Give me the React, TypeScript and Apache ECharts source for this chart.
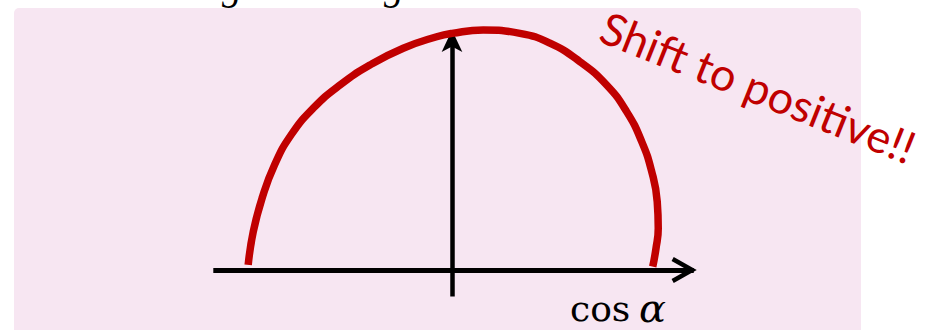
import React, { useEffect, useRef } from "react";
import * as echarts from "echarts";

// cos(alpha) positions along the curve
const cosAlpha = [
  -0.999, -0.974, -0.931, -0.87, -0.789, -0.68, -0.549, -0.402, -0.239, -0.075,
  0.0, 0.153, 0.333, 0.48, 0.627, 0.758, 0.856, 0.93, 0.979, 1.006, 1.011, 1.0, 0.984,
];
// curve height (normalised)
const curveValues = [
  0.021, 0.16, 0.299, 0.4375, 0.5625, 0.674, 0.771, 0.854, 0.924, 0.972,
  0.986, 1.0, 0.986, 0.945, 0.868, 0.771, 0.66, 0.535, 0.41, 0.285, 0.174, 0.09, 0.014,
];
const xExtent = [-1.17, 1.185];
const yExtent = [-0.11, 1.0];
const xAxisTitle = ["cos", "α"];
const annotationText = "Shift to positive!!";
const cutTitleGlyphs = ["g", "g"];

const CHEVRON = "path://M13,0 L26,23 L22,25.2 L13,9.2 L4,25.2 L0,23 Z";

export default function App() {
  const ref = useRef<HTMLDivElement>(null);

  useEffect(() => {
    document.body.style.margin = "0";
    const chart = echarts.init(ref.current as HTMLDivElement, null, {
      renderer: "svg",
    });

    const option: any = {
      animation: false,
      backgroundColor: "#ffffff",
      grid: {
        left: 213.3,
        right: 934 - (452 + xExtent[1] * 204),
        top: 30,
        bottom: 33.6,
        containLabel: false,
        outerBoundsMode: "none",
      },
      xAxis: {
        type: "value",
        min: xExtent[0],
        max: xExtent[1],
        axisLine: {
          show: true,
          onZero: true,
          symbol: ["none", CHEVRON],
          symbolSize: [26, 25.2],
          symbolOffset: [0, -9.6],
          lineStyle: { color: "#000000", width: 5, cap: "butt" },
        },
        axisTick: { show: false },
        axisLabel: { show: false },
        splitLine: { show: false },
      },
      yAxis: {
        type: "value",
        min: yExtent[0],
        max: yExtent[1],
        axisLine: {
          show: true,
          onZero: true,
          symbol: ["none", "arrow"],
          symbolSize: [15.5, 22],
          lineStyle: { color: "#000000", width: 4.5, cap: "butt" },
        },
        axisTick: { show: false },
        axisLabel: { show: false },
        splitLine: { show: false },
      },
      series: [
        {
          type: "line",
          data: cosAlpha.map((c, i) => [c, curveValues[i]]),
          showSymbol: false,
          symbol: "none",
          smooth: 0.5,
          clip: false,
          z: 5,
          lineStyle: { color: "#c00000", width: 7.5, cap: "butt" },
        },
      ],
      graphic: [
        {
          type: "rect",
          z: -100,
          silent: true,
          shape: { x: 14, y: 8, width: 847, height: 340, r: 5 },
          style: { fill: "#f7e6f2" },
        },
        {
          type: "text",
          z: -50,
          x: 222,
          y: -15,
          style: {
            text: cutTitleGlyphs[0],
            fontFamily: "Liberation Serif",
            fontStyle: "italic",
            fontSize: 40,
            fill: "#000000",
            align: "left",
            verticalAlign: "middle",
          },
        },
        {
          type: "text",
          z: -50,
          x: 384,
          y: -15,
          style: {
            text: cutTitleGlyphs[1],
            fontFamily: "Liberation Serif",
            fontStyle: "italic",
            fontSize: 40,
            fill: "#000000",
            align: "left",
            verticalAlign: "middle",
          },
        },
        {
          type: "text",
          z: 10,
          x: 570,
          y: 308,
          style: {
            text: xAxisTitle[0],
            fontFamily: "DejaVu Serif",
            fontSize: 36,
            lineHeight: 32,
            fill: "#000000",
            align: "left",
            verticalAlign: "middle",
          },
        },
        {
          type: "text",
          z: 10,
          x: 639,
          y: 308,
          style: {
            text: xAxisTitle[1],
            fontFamily: "DejaVu Serif",
            fontStyle: "italic",
            fontSize: 40,
            lineHeight: 32,
            fill: "#000000",
            align: "left",
            verticalAlign: "middle",
          },
        },
        {
          type: "text",
          z: 10,
          x: 603,
          y: 25,
          rotation: -0.3805,
          style: {
            text: annotationText,
            fontFamily: "Lato",
            fontSize: 45,
            lineHeight: 40,
            fill: "#c00000",
            align: "left",
            verticalAlign: "middle",
          },
        },
      ],
    };

    chart.setOption(option);
    return () => chart.dispose();
  }, []);

  return <div ref={ref} style={{ width: 934, height: 330 }} />;
}
